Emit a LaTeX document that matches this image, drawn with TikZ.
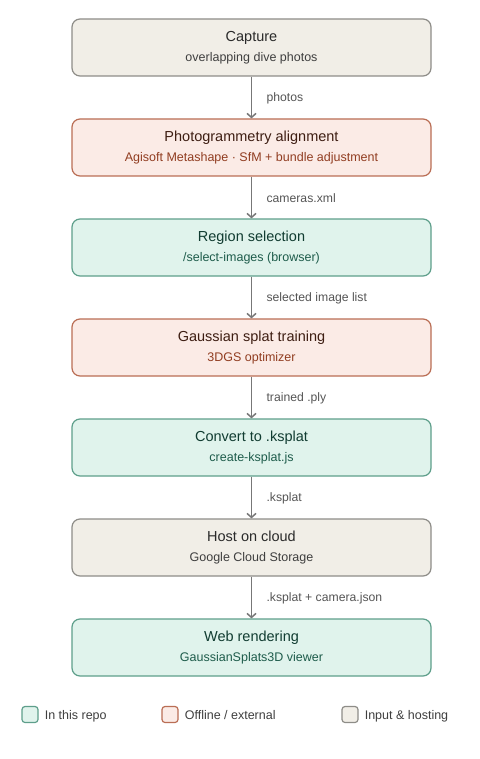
\documentclass[tikz,border=0pt]{standalone}
\usepackage{fontspec}
\setmainfont{Liberation Sans}
\usetikzlibrary{arrows.meta}

\definecolor{repoFill}{HTML}{E0F3EC}
\definecolor{repoLine}{HTML}{5E9F8B}
\definecolor{repoTitle}{HTML}{113C31}
\definecolor{repoSub}{HTML}{1E5C4B}
\definecolor{extFill}{HTML}{FBEBE6}
\definecolor{extLine}{HTML}{BA6E55}
\definecolor{extTitle}{HTML}{3E1E13}
\definecolor{extSub}{HTML}{913D21}
\definecolor{hostFill}{HTML}{F1EEE7}
\definecolor{hostLine}{HTML}{8E8D88}
\definecolor{hostTitle}{HTML}{2A2A2A}
\definecolor{hostSub}{HTML}{3F3F3F}
\definecolor{arrowGray}{HTML}{777777}
\definecolor{labelGray}{HTML}{555555}

\newcommand{\stagetitle}[2]{{\color{#1}\fontsize{14.5}{20}\selectfont #2}}

\tikzset{
  >={Straight Barb[length=4pt,width=9pt]},
  stage/.style={rectangle,rounded corners=8pt,line width=1.2pt,
    minimum width=359pt,minimum height=57pt,align=center,
    font=\fontsize{12.5}{20}\selectfont},
  repo/.style={stage,fill=repoFill,draw=repoLine,text=repoSub},
  ext/.style={stage,fill=extFill,draw=extLine,text=extSub},
  host/.style={stage,fill=hostFill,draw=hostLine,text=hostSub},
  flow/.style={->,draw=arrowGray,line width=1.5pt},
  flowlabel/.style={midway,right,xshift=11pt,yshift=-1pt,text=labelGray,
    font=\fontsize{12.2}{14}\selectfont},
  keybox/.style={rectangle,rounded corners=3pt,line width=1.2pt,
    minimum width=16pt,minimum height=16pt,inner sep=0pt},
  keytext/.style={anchor=base west,xshift=3pt,yshift=-4.5pt,inner sep=3pt,text=hostSub,
    font=\fontsize{12.5}{14}\selectfont}
}

\begin{document}
\begin{tikzpicture}[x=1pt,y=-1pt]
\useasboundingbox[fill=white] (0,0) rectangle (479,759);
\node[host] (Cap) at (251.5,47.5) {\stagetitle{hostTitle}{Capture}\\overlapping dive photos};
\node[ext] (Pho) at (251.5,147.5) {\stagetitle{extTitle}{Photogrammetry alignment}\\Agisoft Metashape · SfM + bundle adjustment};
\node[repo] (Reg) at (251.5,247.5) {\stagetitle{repoTitle}{Region selection}\\/select-images (browser)};
\node[ext] (Gs) at (251.5,347.5) {\stagetitle{extTitle}{Gaussian splat training}\\3DGS optimizer};
\node[repo] (Conv) at (251.5,447.5) {\stagetitle{repoTitle}{Convert to .ksplat}\\create-ksplat.js};
\node[host] (Host) at (251.5,547.5) {\stagetitle{hostTitle}{Host on cloud}\\Google Cloud Storage};
\node[repo] (Web) at (251.5,647.5) {\stagetitle{repoTitle}{Web rendering}\\GaussianSplats3D viewer};
\draw[flow] (Cap) to node[flowlabel]{photos} (Pho);
\draw[flow] (Pho) to node[flowlabel]{cameras.xml} (Reg);
\draw[flow] (Reg) to node[flowlabel]{selected image list} (Gs);
\draw[flow] (Gs) to node[flowlabel]{trained .ply} (Conv);
\draw[flow] (Conv) to node[flowlabel]{.ksplat} (Host);
\draw[flow] (Host) to node[flowlabel]{.ksplat + camera.json} (Web);
% legend
\node[keybox,fill=repoFill,draw=repoLine] (KRepo) at (30,714.5) {};
\node[keytext] (KRepoT) at (KRepo.east) {In this repo};
\node[keybox,fill=extFill,draw=extLine] (KExt) at (170,714.5) {};
\node[keytext] (KExtT) at (KExt.east) {Offline / external};
\node[keybox,fill=hostFill,draw=hostLine] (KHost) at (350,714.5) {};
\node[keytext] (KHostT) at (KHost.east) {Input \& hosting};
\end{tikzpicture}
\end{document}
